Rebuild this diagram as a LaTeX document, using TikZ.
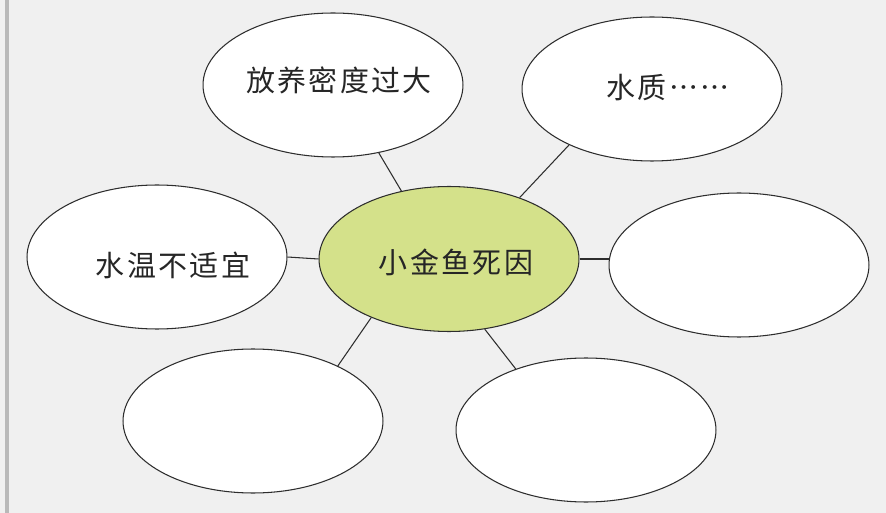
\documentclass[tikz,border=0pt]{standalone}
\usepackage{fontspec}
\newfontfamily\cjk[Script=CJK,Language=Chinese Simplified,LetterSpace=8]{Noto Sans CJK SC}
\usetikzlibrary{shapes.geometric}

\definecolor{paper}{RGB}{240,240,240}
\definecolor{edgegray}{RGB}{185,185,185}
\definecolor{hubgreen}{RGB}{212,225,138}
\definecolor{inkline}{RGB}{45,45,45}

\begin{document}
\begin{tikzpicture}[x=0.02cm,y=-0.02cm,
	bubble/.style={ellipse,draw=inkline,line width=0.6pt,fill=white,
		minimum width=5.2cm,minimum height=2.88cm,inner sep=0pt},
	hub/.style={bubble,fill=hubgreen,minimum height=2.9cm},
	word/.style={font=\cjk\fontsize{16.5}{20}\selectfont,text=black!85,inner sep=0pt},
	link/.style={draw=inkline,line width=0.6pt}]

	% ---- page

	\fill[paper] (0,0) rectangle (886,513);
	\useasboundingbox (0,0) rectangle (886,513);
	\fill[edgegray] (5,0) rectangle (9,513);

	% ---- bubbles

	\node[hub]    (c)  at (449,259) {};
	\node[bubble] (tl) at (333,85)  {};
	\node[bubble] (tr) at (652,89)  {};
	\node[bubble] (l)  at (157,257) {};
	\node[bubble] (r)  at (739,265) {};
	\node[bubble] (bl) at (253,421) {};
	\node[bubble] (br) at (586,430) {};

	% ---- texts

	\node[word] (c-txt)  at (456,262) {小金鱼死因};
	\node[word] (tl-txt) at (339,80)  {放养密度过大};
	\node[word] (tr-txt) at (668,88)  {水质……};
	\node[word] (l-txt)  at (173,265) {水温不适宜};

	% ---- links

	\draw[link] (c.125) -- (tl.-56);
	\draw[link] (c.41)  -- (tr.214.5);
	\draw[link] (c.west) -- (l.east);
	\draw[link] (c.east) -- (c.east -| r.west);
	\draw[link] (c.217) -- (bl.33.7);
	\draw[link] (c.-63.4) -- (br.139.7);

\end{tikzpicture}
\end{document}
